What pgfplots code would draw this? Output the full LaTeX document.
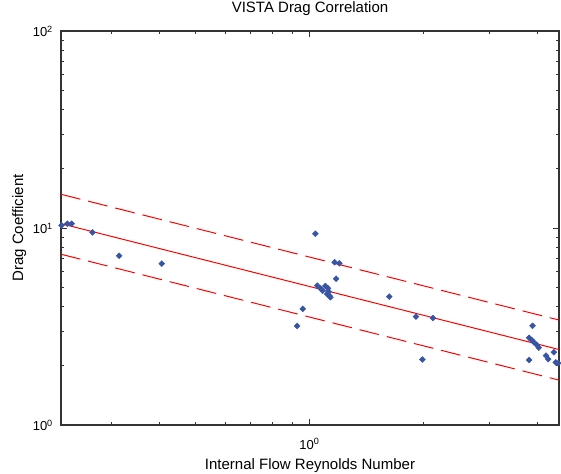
\documentclass[border=0pt]{standalone}
\usepackage{fontspec}
\setmainfont{Liberation Sans}
\usepackage{pgfplots}
\pgfplotsset{compat=1.18}
\definecolor{markblue}{RGB}{55,85,165}
\begin{document}
\begin{tikzpicture}
\path[use as bounding box] (-61pt,-48pt) rectangle (500pt,425pt);
\begin{axis}[
  at={(0pt,0pt)}, anchor=south west,
  scale only axis, width=498pt, height=394pt,
  xmode=log, ymode=log,
  xmin=0.2203, xmax=4.57, ymin=1, ymax=100,
  xtick={1}, xticklabels={10\textsuperscript{0}},
  ytick={1,10,100}, yticklabels={10\textsuperscript{0},10\textsuperscript{1},10\textsuperscript{2}},
  minor xtick={0.3,0.4,0.5,0.6,0.7,0.8,0.9,2,3,4},
  minor ytick={2,3,4,5,6,7,8,9,20,30,40,50,60,70,80,90},
  tick align=inside, tick pos=both,
  major tick length=6pt, minor tick length=3.5pt,
  every tick/.style={black!80, line width=0.9pt},
  axis line style={black!80, line width=1.2pt},
  ticklabel style={font=\fontsize{13}{15}\selectfont},
  xticklabel style={anchor=base, inner sep=0pt, yshift=-24pt},
  yticklabel style={anchor=base east, inner sep=0pt, xshift=-8pt, yshift=-5.5pt},
  title={VISTA Drag Correlation},
  title style={at={(axis description cs:0.5,1.0305)}, anchor=base, inner sep=0pt, font=\fontsize{15}{18}\selectfont},
  xlabel={Internal Flow Reynolds Number},
  xlabel style={at={(axis description cs:0.5,-0.1117)}, anchor=base, inner sep=0pt, font=\fontsize{15}{18}\selectfont},
  ylabel={Drag Coefficient},
  ylabel style={at={(axis description cs:-0.0763,0.5)}, anchor=base, rotate=0, inner sep=0pt, font=\fontsize{15}{18}\selectfont},
]
% fit line and bounds
\addplot[red, line width=1pt] coordinates {(0.2203,10.52) (4.57,2.416)};
\addplot[red, line width=1pt, dash pattern=on 20pt off 8pt] coordinates {(0.2203,14.83) (4.57,3.41)};
\addplot[red, line width=1pt, dash pattern=on 20pt off 8pt] coordinates {(0.2203,7.36) (4.57,1.69)};
% data
\addplot[only marks, mark=square*, mark size=2.1pt, mark options={rotate=45, fill=markblue, draw=markblue}] table {
x y
0.221 10.3
0.229 10.5
0.235 10.5
0.267 9.5
0.314 7.23
0.407 6.59
0.928 3.18
0.960 3.89
1.037 9.35
1.048 5.10
1.069 4.94
1.084 4.80
1.102 5.08
1.120 4.94
1.124 4.75
1.114 4.62
1.129 4.53
1.136 4.45
1.166 6.70
1.200 6.62
1.176 5.53
1.626 4.48
1.912 3.55
2.120 3.49
1.990 2.15
3.89 3.19
3.81 2.77
3.87 2.70
3.92 2.63
3.99 2.55
4.04 2.47
3.81 2.14
4.22 2.25
4.28 2.16
4.43 2.34
4.48 2.08
4.55 2.06
};
\end{axis}
\end{tikzpicture}
\end{document}
